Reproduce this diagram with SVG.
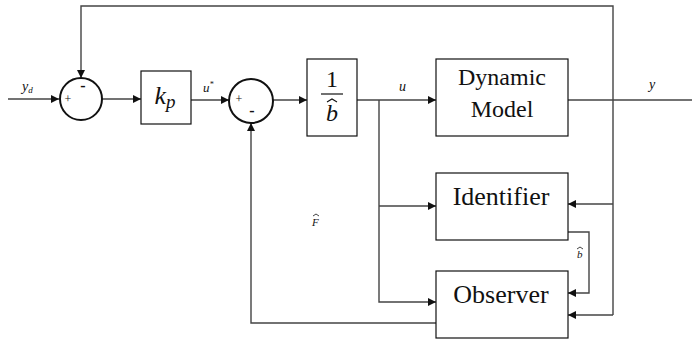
<svg xmlns="http://www.w3.org/2000/svg" width="692" height="340" viewBox="0 0 692 340">
  <style>
    .wire { fill: none; stroke: #444; stroke-width: 1.4; }
    .blk { fill: #fff; stroke: #111; stroke-width: 1.2; }
    .sum { fill: #fff; stroke: #111; stroke-width: 2; }
    .lbl { font-family: "Liberation Serif", "Times New Roman", serif; fill: #111; }
    .it { font-style: italic; }
  </style>
  <defs>
    <marker id="arr" viewBox="0 0 10 10" refX="10" refY="5" markerWidth="8" markerHeight="8" markerUnits="userSpaceOnUse" orient="auto">
      <path d="M0,0 L10,5 L0,10 z" fill="#111"/>
    </marker>
  </defs>

  <!-- connectors -->
  <g id="connectors">
    <!-- reference input -->
    <line class="wire" x1="8" y1="99" x2="59" y2="99" marker-end="url(#arr)"/>
    <!-- output feedback to first summer -->
    <polyline class="wire" points="613,315 613,6 81,6 81,78" marker-end="url(#arr)"/>
    <line class="wire" x1="102" y1="99" x2="141" y2="99" marker-end="url(#arr)"/>
    <line class="wire" x1="191" y1="100" x2="229" y2="100" marker-end="url(#arr)"/>
    <line class="wire" x1="273" y1="100" x2="307" y2="100" marker-end="url(#arr)"/>
    <line class="wire" x1="357" y1="100" x2="436" y2="100" marker-end="url(#arr)"/>
    <!-- plant output -->
    <line class="wire" x1="568" y1="100" x2="692" y2="100"/>
    <!-- control signal branches -->
    <polyline class="wire" points="379,100 379,302 436,302" marker-end="url(#arr)"/>
    <line class="wire" x1="379" y1="206" x2="436" y2="206" marker-end="url(#arr)"/>
    <!-- measured output into identifier and observer -->
    <line class="wire" x1="613" y1="204" x2="568" y2="204" marker-end="url(#arr)"/>
    <line class="wire" x1="613" y1="315" x2="568" y2="315" marker-end="url(#arr)"/>
    <!-- b-hat from identifier to observer -->
    <polyline class="wire" points="568,232 589,232 589,293 568,293" marker-end="url(#arr)"/>
    <!-- disturbance estimate back to second summer -->
    <polyline class="wire" points="436,323 251,323 251,123" marker-end="url(#arr)"/>
  </g>

  <!-- first summing junction -->
  <g id="sum1">
    <circle class="sum" cx="81" cy="99" r="21"/>
    <text class="lbl" x="68" y="103" font-size="12" text-anchor="middle">+</text>
    <text class="lbl" x="83" y="91" font-size="16" font-weight="bold" text-anchor="middle">-</text>
  </g>

  <!-- proportional gain -->
  <g id="kp">
    <rect class="blk" x="141" y="71" width="50" height="53"/>
    <text class="lbl it" x="165" y="104" font-size="26" text-anchor="middle">k<tspan font-size="19" dy="4">p</tspan></text>
  </g>

  <!-- second summing junction -->
  <g id="sum2">
    <circle class="sum" cx="251" cy="101" r="22"/>
    <text class="lbl" x="239" y="103" font-size="12" text-anchor="middle">+</text>
    <text class="lbl" x="252" y="116" font-size="16" font-weight="bold" text-anchor="middle">-</text>
  </g>

  <!-- inverse gain estimate -->
  <g id="inv-b">
    <rect class="blk" x="307" y="59" width="50" height="77"/>
    <text class="lbl" x="332" y="87" font-size="24" text-anchor="middle">1</text>
    <line x1="321" y1="94" x2="343" y2="94" stroke="#111" stroke-width="1.2"/>
    <text class="lbl it" x="332" y="121" font-size="24" text-anchor="middle">b</text>
    <path d="M327,102 L332,99 L337,102" fill="none" stroke="#111" stroke-width="1.1"/>
  </g>

  <!-- plant -->
  <g id="dynamic-model">
    <rect class="blk" x="436" y="59" width="132" height="77"/>
    <text class="lbl" x="502" y="85" font-size="24" text-anchor="middle">Dynamic</text>
    <text class="lbl" x="502" y="117" font-size="24" text-anchor="middle">Model</text>
  </g>

  <!-- identifier -->
  <g id="identifier">
    <rect class="blk" x="436" y="173" width="132" height="67"/>
    <text class="lbl" x="501" y="205" font-size="26" text-anchor="middle">Identifier</text>
  </g>

  <!-- observer -->
  <g id="observer">
    <rect class="blk" x="436" y="271" width="132" height="67"/>
    <text class="lbl" x="501" y="303" font-size="26" text-anchor="middle">Observer</text>
  </g>

  <!-- signal labels -->
  <g id="labels">
    <text class="lbl it" x="22" y="91" font-size="14">y<tspan font-size="9" dy="2">d</tspan></text>
    <text class="lbl it" x="203" y="92" font-size="13">u<tspan font-size="8" dy="-5">*</tspan></text>
    <text class="lbl it" x="399" y="91" font-size="14">u</text>
    <text class="lbl it" x="649" y="89" font-size="14">y</text>
    <text class="lbl it" x="312" y="226" font-size="11">F</text>
    <path d="M313,216 L316,214 L319,216" fill="none" stroke="#111" stroke-width="0.8"/>
    <text class="lbl it" x="577" y="258" font-size="11">b</text>
    <path d="M577,249 L580,247 L583,249" fill="none" stroke="#111" stroke-width="0.8"/>
  </g>
</svg>
